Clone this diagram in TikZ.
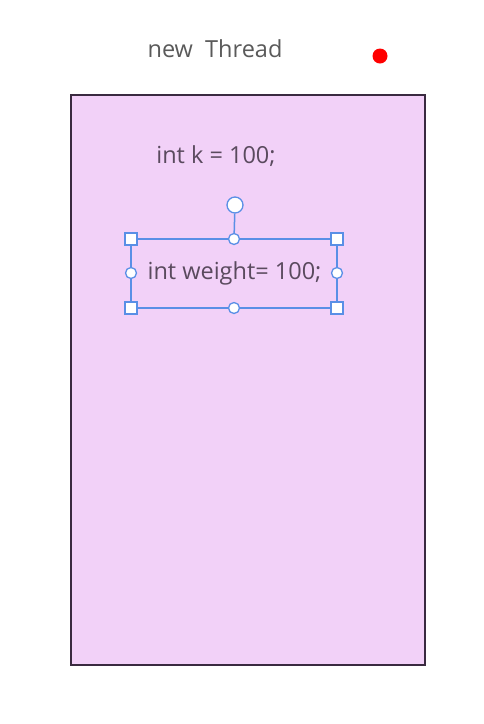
\documentclass[tikz,border=0pt]{standalone}
\usepackage{fontspec}
\setmainfont{Open Sans}
\begin{document}
\begin{tikzpicture}[x=1pt,y=-1pt,
  lbl/.style={inner sep=0pt, font=\fontsize{23.5}{28}\selectfont},
  sel/.style={draw=selblue, line width=1.1pt},
  sqh/.style={draw=selblue, fill=white, line width=1.3pt, minimum size=12pt, inner sep=0pt, rectangle},
  cih/.style={draw=selblue, fill=white, line width=1.3pt, minimum size=11pt, inner sep=0pt, circle}]
\definecolor{selblue}{HTML}{5A8FE6}
\definecolor{boxfill}{HTML}{F2D1F8}
\definecolor{boxline}{HTML}{3A2A40}
\definecolor{txt}{HTML}{5A4A5E}
\definecolor{ttl}{HTML}{5A5A5A}
\useasboundingbox (0,0) rectangle (484,724);
\fill[white] (0,0) rectangle (484,724);
\node[lbl, text=ttl] (title) at (215,49) {new\ \ Thread};
\fill[red] (380,56) circle (7.5);
\node[draw=boxline, fill=boxfill, line width=2pt, minimum width=354pt, minimum height=570pt, inner sep=0pt] (thread) at (248,380) {};
\node[lbl, text=txt] (k) at (216,156) {int k = 100;};
\node[lbl, text=txt] (w) at (234.5,273) {int weight= 100;};
\draw[sel] (131,239) rectangle (337,308);
\coordinate (tm) at (234,239);
\node[cih, minimum size=16pt] (rot) at (235,205) {};
\draw[sel, line width=1.5pt] (rot) -- (tm);
\node[sqh] (tl) at (131,239) {};
\node[sqh] (tr) at (337,239) {};
\node[sqh] (bl) at (131,308) {};
\node[sqh] (br) at (337,308) {};
\node[cih] (t) at (234,239) {};
\node[cih] (b) at (234,308) {};
\node[cih] (l) at (131,273) {};
\node[cih] (r) at (337,273) {};
\end{tikzpicture}
\end{document}
